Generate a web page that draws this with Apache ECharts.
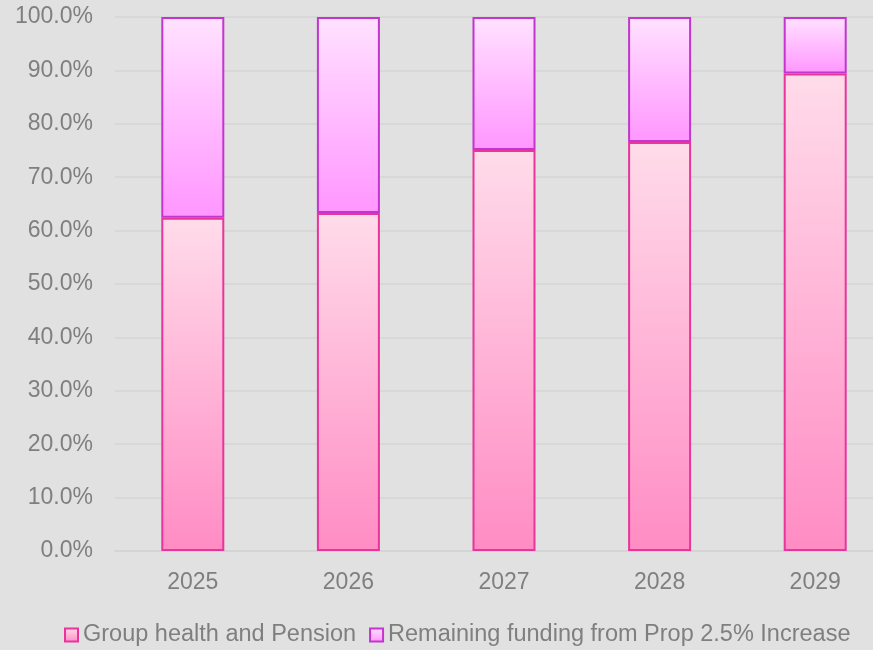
<!DOCTYPE html>
<html><head><meta charset="utf-8">
<script src="https://cdn.jsdelivr.net/npm/echarts@6/dist/echarts.min.js"></script>
<style>html,body{margin:0;padding:0;background:#e1e1e1;}#c{width:873px;height:650px;}</style>
</head><body><div id="c"></div>
<script>
const categories = ['2025','2026','2027','2028','2029'];
const groupHealth = [0.624, 0.633, 0.751, 0.766, 0.894];
const remaining = [0.376, 0.367, 0.249, 0.234, 0.106];
const seriesNames = ['Group health and Pension', 'Remaining funding from Prop 2.5% Increase'];

const FONT = '"Liberation Sans", Arial, sans-serif';
const chart = echarts.init(document.getElementById('c'));
const grad = (a, b) => new echarts.graphic.LinearGradient(0, 0, 0, 1, [{offset:0,color:a},{offset:1,color:b}]);
chart.setOption({
  backgroundColor: '#e1e1e1',
  animation: false,
  grid: {left: 115, right: -20, top: 17, bottom: 99, outerBoundsMode: 'none', containLabel: false},
  legend: {
    bottom: -2, left: 59, itemGap: 13, itemWidth: 13, itemHeight: 13, icon: 'rect',
    textStyle: {color: '#7f7f7f', fontSize: 23.5, fontFamily: FONT},
    itemStyle: {borderWidth: 2},
    data: seriesNames
  },
  xAxis: {
    type: 'category', data: categories,
    axisLine: {lineStyle: {color: '#d2d2d2', width: 1.5}},
    axisTick: {show: false},
    axisLabel: {color: '#7f7f7f', fontSize: 23, margin: 20, fontFamily: FONT}
  },
  yAxis: {
    type: 'value', min: 0, max: 1, interval: 0.1,
    axisLine: {show: false}, axisTick: {show: false},
    splitLine: {lineStyle: {color: '#d4d4d4', width: 1.5}},
    axisLabel: {color: '#7f7f7f', fontSize: 23, margin: 22, fontFamily: FONT,
      formatter: v => (v * 100).toFixed(1) + '%'}
  },
  series: [
    {name: seriesNames[0], type: 'bar', stack: 's', data: groupHealth, barWidth: 63,
     itemStyle: {color: grad('#ffdcea', '#ff8cc4'), borderColor: '#e8359c', borderWidth: 2}},
    {name: seriesNames[1], type: 'bar', stack: 's', data: remaining, barWidth: 63,
     itemStyle: {color: grad('#ffe2ff', '#ff96ff'), borderColor: '#c435cf', borderWidth: 2}}
  ]
});
</script></body></html>
